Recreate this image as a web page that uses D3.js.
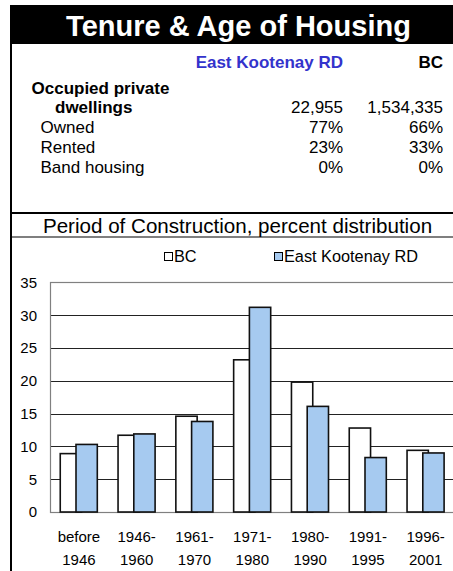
<!DOCTYPE html>
<html><head><meta charset="utf-8">
<script src="https://cdn.jsdelivr.net/npm/d3@7"></script>
<style>
html,body{margin:0;padding:0;background:#fff;}
svg{display:block;font-family:"Liberation Sans",Arial,Helvetica,sans-serif;}
</style></head>
<body>
<svg id="chart" width="453" height="571"></svg>
<script>
// ---- data ----
const title = "Tenure & Age of Housing";
const regionName = "East Kootenay RD";
const provName = "BC";
const tableRows = ["Owned", "Rented", "Band housing"];
const regionPct = ["77%", "23%", "0%"];
const provPct = ["66%", "33%", "0%"];
const dwellingsRegion = "22,955";
const dwellingsProv = "1,534,335";
const chartTitle = "Period of Construction, percent distribution";
const categories = [["before","1946"],["1946-","1960"],["1961-","1970"],["1971-","1980"],["1980-","1990"],["1991-","1995"],["1996-","2001"]];
const seriesNames = ["BC", "East Kootenay RD"];
const bcValues = [8.9, 11.7, 14.6, 23.2, 19.8, 12.8, 9.4];
const ekValues = [10.3, 11.9, 13.8, 31.2, 16.1, 8.3, 9.0];
const yTicks = [0, 5, 10, 15, 20, 25, 30, 35];

const svg = d3.select("#chart");

// frame
svg.append("rect").attr("x",10).attr("y",5).attr("width",443).attr("height",39).attr("fill","#000");
svg.append("rect").attr("x",10).attr("y",44).attr("width",2).attr("height",527).attr("fill","#000");
svg.append("rect").attr("x",10).attr("y",212).attr("width",443).attr("height",2).attr("fill","#000");
svg.append("rect").attr("x",10).attr("y",236.5).attr("width",443).attr("height",1).attr("fill","#000");

svg.append("text").attr("x",238.5).attr("y",35.5).attr("text-anchor","middle")
  .attr("fill","#fff").attr("font-weight","bold").attr("font-size",29).text(title);

// table
const colR = 343, colB = 443;
svg.append("text").attr("x",colR).attr("y",68).attr("text-anchor","end").attr("font-weight","bold")
  .attr("font-size",17).attr("fill","#3333cc").text(regionName);
svg.append("text").attr("x",colB).attr("y",68).attr("text-anchor","end").attr("font-weight","bold")
  .attr("font-size",17).text(provName);
svg.append("text").attr("x",31.5).attr("y",94).attr("font-weight","bold").attr("font-size",17).text("Occupied private");
svg.append("text").attr("x",55).attr("y",113).attr("font-weight","bold").attr("font-size",17).text("dwellings");
svg.append("text").attr("x",colR).attr("y",113).attr("text-anchor","end").attr("font-size",17).text(dwellingsRegion);
svg.append("text").attr("x",colB).attr("y",113).attr("text-anchor","end").attr("font-size",17).text(dwellingsProv);
tableRows.forEach((r,i)=>{
  const yy = 133 + i*20;
  svg.append("text").attr("x",40.5).attr("y",yy).attr("font-size",17).text(r);
  svg.append("text").attr("x",colR).attr("y",yy).attr("text-anchor","end").attr("font-size",17).text(regionPct[i]);
  svg.append("text").attr("x",colB).attr("y",yy).attr("text-anchor","end").attr("font-size",17).text(provPct[i]);
});

svg.append("text").attr("x",237.5).attr("y",232.5).attr("text-anchor","middle").attr("font-size",20.6).text(chartTitle);

// chart
const plotLeft = 50, band = 57.8, plotTop = 282.4, plotBottom = 512;
const x0 = d3.scaleBand().domain(d3.range(categories.length)).range([plotLeft, plotLeft + band*categories.length]).padding(0);
const x1 = d3.scalePoint().domain(seriesNames).range([10.25, 26]);
const barW = 21.3;
const y = d3.scaleLinear().domain([0,35]).range([plotBottom, plotTop]);

const g = svg.append("g");
// gridlines
g.selectAll("line.grid").data(yTicks.filter(t=>t>0 && t<35)).join("line")
  .attr("x1",plotLeft).attr("x2",453).attr("y1",d=>Math.round(y(d))+0.5).attr("y2",d=>Math.round(y(d))+0.5)
  .attr("stroke","#222").attr("stroke-width",1);
// plot border
g.append("rect").attr("x",plotLeft+0.5).attr("y",Math.round(y(35))+0.5).attr("width",460).attr("height",Math.round(y(0))-Math.round(y(35)))
  .attr("fill","none").attr("stroke","#808080").attr("stroke-width",1.2);

// y axis labels
const yAxis = d3.axisLeft(y).tickValues(yTicks).tickSize(0).tickPadding(13);
const ya = svg.append("g").attr("transform",`translate(${plotLeft},0)`).call(yAxis);
ya.select(".domain").remove();
ya.selectAll("text").attr("font-size",15).attr("font-family","Liberation Sans, Arial, sans-serif").attr("fill","#000");

// bars
const vals = [bcValues, ekValues];
const fills = ["#ffffff", "#a6caf0"];
seriesNames.forEach((s,si)=>{
  g.selectAll("rect.s"+si).data(vals[si]).join("rect").attr("class","s"+si)
    .attr("x",(d,i)=>x0(i)+x1(s)).attr("width",barW)
    .attr("y",d=>y(d)).attr("height",d=>y(0)-y(d))
    .attr("fill",fills[si]).attr("stroke","#111").attr("stroke-width",1.6);
});

// x labels
const xl = svg.append("g");
categories.forEach((c,i)=>{
  const cx = x0(i) + band/2;
  c.forEach((line,li)=>{
    xl.append("text").attr("x",cx).attr("y",541.5 + li*23).attr("text-anchor","middle").attr("font-size",15).text(line);
  });
});

// legend
const legX = [164, 274];
seriesNames.forEach((s,si)=>{
  svg.append("rect").attr("x",legX[si]+0.5).attr("y",252.5).attr("width",8).attr("height",8)
    .attr("fill",fills[si]).attr("stroke","#000").attr("stroke-width",1);
  svg.append("text").attr("x",legX[si]+10).attr("y",261.5).attr("font-size",16.3).text(s);
});
</script>
</body></html>
